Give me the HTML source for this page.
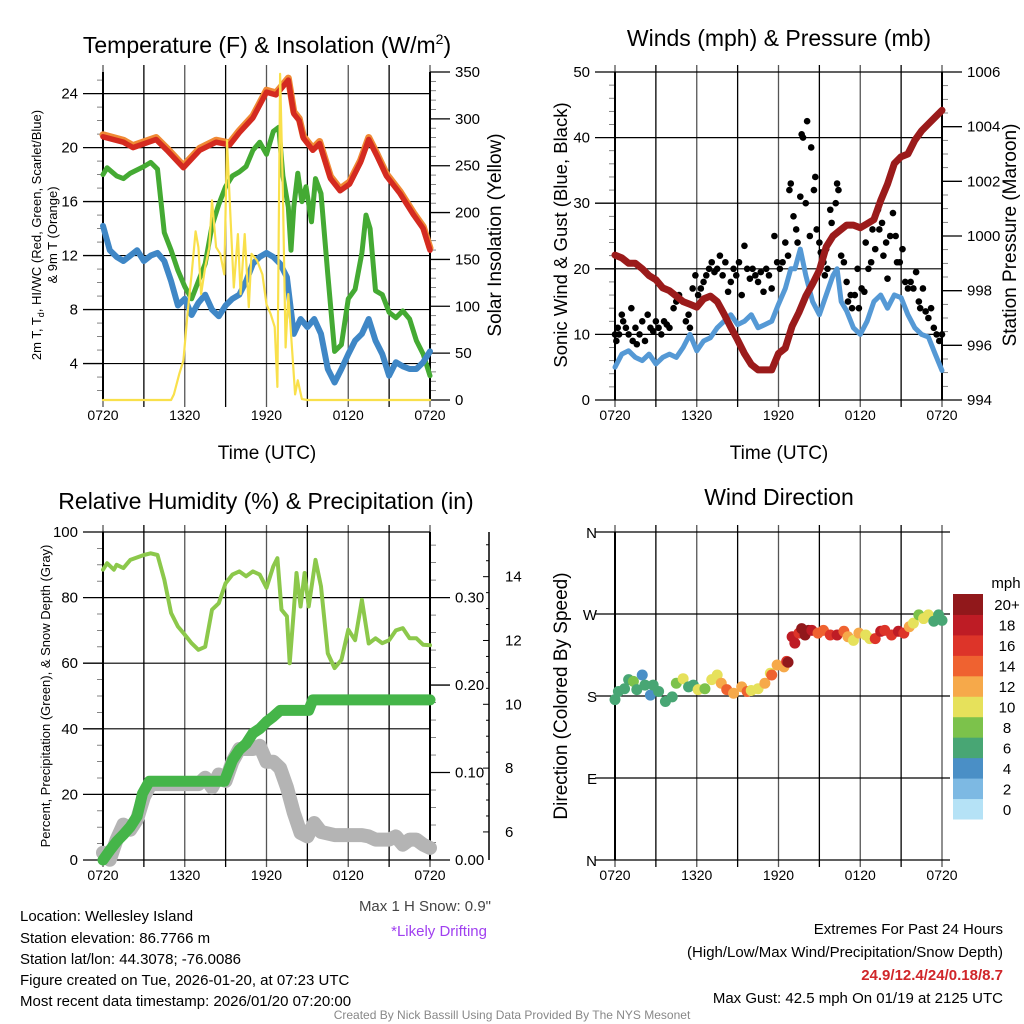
<!DOCTYPE html>
<html><head><meta charset="utf-8">
<style>
html,body{margin:0;padding:0;background:#fff;}
svg{display:block;font-family:"Liberation Sans",Arial,sans-serif;}
</style></head>
<body>
<svg id="chart" width="1024" height="1024" viewBox="0 0 1024 1024">
<rect width="1024" height="1024" fill="#fff"/>
<g id="g"></g>
<!-- titles -->
<text x="267" y="53" font-size="23" text-anchor="middle">Temperature (F) &amp; Insolation (W/m<tspan font-size="14" dy="-9">2</tspan><tspan dy="9">)</tspan></text>
<text x="779" y="46" font-size="23" text-anchor="middle">Winds (mph) &amp; Pressure (mb)</text>
<text x="266" y="509" font-size="23" text-anchor="middle">Relative Humidity (%) &amp; Precipitation (in)</text>
<text x="779" y="505" font-size="23" text-anchor="middle">Wind Direction</text>
<text x="267" y="459" font-size="19" text-anchor="middle">Time (UTC)</text>
<text x="779" y="459" font-size="19" text-anchor="middle">Time (UTC)</text>
<text transform="translate(41,235) rotate(-90)" font-size="13" text-anchor="middle">2m T, T<tspan font-size="9" dy="3">d</tspan><tspan dy="-3">, HI/WC (Red, Green, Scarlet/Blue)</tspan></text>
<text transform="translate(57,235) rotate(-90)" font-size="13" text-anchor="middle">&amp; 9m T (Orange)</text>
<text transform="translate(501,235) rotate(-90)" font-size="19" text-anchor="middle">Solar Insolation (Yellow)</text>
<text transform="translate(567,235) rotate(-90)" font-size="18.5" text-anchor="middle">Sonic Wind &amp; Gust (Blue, Black)</text>
<text transform="translate(1016,235) rotate(-90)" font-size="19" text-anchor="middle">Station Pressure (Maroon)</text>
<text transform="translate(50,696) rotate(-90)" font-size="13" text-anchor="middle">Percent, Precipitation (Green), &amp; Snow Depth (Gray)</text>
<text transform="translate(567,696) rotate(-90)" font-size="19" text-anchor="middle">Direction (Colored By Speed)</text>
<!-- bottom text -->
<g font-size="15">
<text x="20" y="921">Location: Wellesley Island</text>
<text x="20" y="943">Station elevation: 86.7766 m</text>
<text x="20" y="964">Station lat/lon: 44.3078; -76.0086</text>
<text x="20" y="985">Figure created on Tue, 2026-01-20, at 07:23 UTC</text>
<text x="20" y="1006">Most recent data timestamp: 2026/01/20 07:20:00</text>
</g>
<text x="491" y="911" font-size="15" fill="#444" text-anchor="end">Max 1 H Snow: 0.9"</text>
<text x="487" y="936" font-size="15" fill="#a040f0" text-anchor="end">*Likely Drifting</text>
<g font-size="15" text-anchor="end">
<text x="1003" y="934">Extremes For Past 24 Hours</text>
<text x="1003" y="957">(High/Low/Max Wind/Precipitation/Snow Depth)</text>
<text x="1003" y="980" fill="#d0262a" font-weight="bold">24.9/12.4/24/0.18/8.7</text>
<text x="1003" y="1003">Max Gust: 42.5 mph On 01/19 at 2125 UTC</text>
</g>
<text x="512" y="1019" font-size="12" fill="#888" text-anchor="middle">Created By Nick Bassill Using Data Provided By The NYS Mesonet</text>
</svg>
<script>
// ---------- data ----------
const xTickLabels = ["0720","1320","1920","0120","0720"];
const tRedH = [0,1.5,2.2,3.9,4.7,5.9,7.1,8.3,9.3,10,11,12,12.7,13.6,14,14.4,14.7,15.4,15.9,16.7,17.4,18.1,18.9,19.5,20.1,20.8,21.8,22.8,23.5,24];
const tRedV = [20.8,20.4,20.0,20.6,19.8,18.5,19.8,20.4,20.2,21.1,22.2,24.1,23.9,25.0,22.5,22.0,20.7,19.8,20.3,17.7,16.8,17.3,18.9,20.6,19.4,17.9,16.6,15.0,14.0,12.4];
const tGreenH = [0,0.3,1,1.5,2,3,3.5,4,4.5,5,5.5,6,6.5,7,7.5,8,8.5,9,9.5,10,10.5,11,11.5,12,12.5,12.9,13.2,13.6,13.8,14,14.3,14.6,14.9,15.3,15.6,16,16.5,17,17.5,18,18.5,19,19.3,19.6,20,20.5,21,21.5,22,22.5,23,23.5,24];
const tGreenV = [18.0,18.5,17.9,17.7,18.1,18.6,18.9,18.4,13.7,12.4,10.9,9.7,8.8,10.1,11.4,14.2,15.8,17.1,17.9,18.2,18.6,19.8,20.4,19.5,21.2,21.5,17.9,15.6,12.4,15.6,18.1,16.0,17.1,14.5,17.7,16.6,10.6,4.9,5.4,8.8,9.5,12.2,15.0,14.0,9.4,9.1,7.8,7.4,7.9,7.3,5.7,4.7,3.1];
const tBlueH = [0,0.5,1,1.5,2,2.5,3,3.5,4,4.5,5,5.5,6,6.5,7,7.5,8,8.5,9,9.5,10,10.5,11,11.5,12,12.5,13,13.5,14,14.5,15,15.5,16,16.5,17,17.5,18,18.5,19,19.5,20,20.5,21,21.5,22,22.5,23,23.5,24];
const tBlueV = [14.2,12.4,11.9,11.6,12.0,12.4,11.6,12.0,12.2,11.6,10.1,8.3,8.8,7.6,8.5,9.1,8.0,7.5,8.3,8.8,9.1,10.1,11.4,11.9,12.2,11.9,11.4,10.4,6.2,7.3,6.7,7.3,6.2,3.6,2.6,3.6,4.7,5.7,6.2,7.3,5.7,4.7,3.1,4.1,3.8,3.6,3.6,4.1,4.9];
const solH = [0,5,5.2,5.6,5.9,6.2,6.5,6.8,7,7.2,7.5,7.8,8,8.3,8.6,8.9,9.1,9.3,9.6,9.9,10.1,10.4,10.7,10.9,11.3,11.7,12,12.3,12.6,12.8,13.0,13.2,13.4,13.6,13.9,14.1,14.3,14.6,15,24];
const solV = [0,0,6,28,42,92,134,180,163,113,142,163,213,163,156,134,277,213,120,177,113,177,99,156,149,134,102,92,78,14,348,220,56,113,49,6,21,1,0,0];
const windH = [0,0.5,1,1.5,2,2.5,3,3.5,4,4.5,5,5.5,6,6.5,7,7.5,8,8.5,9,9.5,10,10.5,11,11.5,12,12.5,12.9,13.2,13.6,14,14.5,15,15.5,16,16.3,16.6,17,17.5,18,18.5,19,19.5,20,20.5,21,21.5,22,22.5,23,23.5,24];
const windV = [5,7,7.5,6.5,6,7,5.5,6.5,7,6.5,8,10,7.5,9,9.5,11,12,13,11.5,12,13,11,11.5,12,14.6,17,20,20,23,19,15,13,16,19,20,15,13.6,11,10,12,15,16,14,16,15.6,13,11,10,9.6,7,4.5];
const gustH = [0,0.1,0.2,0.3,0.5,0.6,0.8,1,1.2,1.3,1.5,1.6,1.8,2,2.2,2.4,2.6,2.8,3,3.2,3.4,3.6,3.8,4,4.3,4.5,4.7,5,5.2,5.4,5.5,5.7,5.9,6.1,6.3,6.5,6.7,6.9,7.1,7.3,7.5,7.7,7.9,8.1,8.3,8.5,8.7,8.9,9.1,9.3,9.5,9.7,9.9,10.1,10.3,10.5,10.7,10.9,11.1,11.3,11.5,11.7,11.9,12.1,12.3,12.5,12.7,12.8,12.9,13.1,13.3,13.4,13.6,13.7,13.8,14,14.1,14.3,14.4,14.6,14.7,14.8,15,15.1,15.3,15.4,15.5,15.6,15.8,15.9,16,16.2,16.3,16.4,16.6,16.8,17,17.1,17.3,17.4,17.6,17.8,17.9,18.1,18.3,18.4,18.6,18.8,18.9,19.1,19.3,19.4,19.6,19.7,19.9,20,20.2,20.4,20.6,20.7,20.9,21.1,21.3,21.5,21.7,21.9,22.1,22.3,22.4,22.6,22.8,23,23.2,23.4,23.6,23.8,24];
const gustV = [10,9,11,10,13,12,11,10,14,9,11,8.5,10,12,9,13,11,10.5,12,11,10,12,11.5,11,14,15,16,15,12,13,11,17,19,16,17,18,19,20,21,19.5,20,22,19,21,16.5,18,20,19,21,16,23.5,20,18.5,20,19,18,19.5,16.5,20,19,17,25,21,20,21,24,22,32,33,28,26,24,31,40.5,40,30,42.5,25,38.5,32,34,26,24,22.5,21,19,23,20,29,27,25,30,33,32,22,21,18,15,16,14,16,20,14,17,16.5,24,20,21,26,23,29,26,27,22,24,18.5,25,28.5,25,21,21,23,18,17,18,17,19.5,15,14,17,13.5,12.5,14,11,10,9,10];
const presH = [0,0.5,1,1.5,2,2.5,3,3.5,4,4.5,5,5.5,6,6.5,7,7.5,8,8.5,9,9.5,10,10.5,11,11.5,12,12.5,13,13.5,14,14.5,15,15.5,16,16.5,17,17.5,18,18.5,19,19.5,20,20.5,21,21.5,22,22.5,23,23.5,24];
const presV = [999.3,999.2,999.0,999.0,998.8,998.55,998.4,998.1,998.0,997.8,997.6,997.5,997.4,997.7,997.8,997.6,997.15,996.66,996.2,995.7,995.3,995.1,995.1,995.1,995.7,995.9,996.7,997.2,997.8,998.25,998.75,999.6,1000.0,1000.2,1000.4,1000.4,1000.3,1000.45,1000.6,1001.3,1001.9,1002.65,1002.9,1003.0,1003.5,1003.85,1004.1,1004.35,1004.6];
const rhH = [0,0.3,0.8,1,1.5,2,3,3.5,4,4.5,5,5.5,6,6.5,7,7.5,8,8.5,9,9.5,10,10.5,11,11.5,12,12.5,12.8,13.1,13.5,13.7,14,14.2,14.5,14.8,15.1,15.6,16,16.5,17,17.5,18,18.5,19,19.5,20,20.5,21,21.5,22,22.5,23,23.5,24];
const rhV = [88.5,90.5,88.5,90,89,91.5,93,93.5,93,85.5,75.3,71.2,68.7,66.1,64.1,65,76.3,78.3,84.4,87,88,86.5,88,87,83,89.5,92,76.3,74.3,60,76,87.5,77.3,87.5,77.3,91.5,83.4,63,58.5,61,70.2,67,79.3,66,67.6,66.1,67,70,70.7,67.6,67.6,65.6,65.5];
const prcH = [0,0.5,1,1.5,2,2.5,2.9,3.4,8.9,9.5,10,10.5,11,11.5,12,12.5,13,15.1,15.4,24];
const prcV = [0,0.011,0.021,0.029,0.038,0.05,0.076,0.09,0.09,0.114,0.126,0.133,0.145,0.15,0.158,0.164,0.171,0.171,0.183,0.183];
const snowH = [0,0.5,1,1.5,2,2.5,3,3.5,7,7.5,8,8.5,9,9.5,10,10.5,11,11.5,12,12.5,13,13.5,14,14.5,15,15.5,16,17,18,19,19.5,20,21,21.5,22,22.5,23,23.5,24];
const snowV = [5.35,5.13,5.76,6.23,6.07,6.4,7.1,7.5,7.5,7.7,7.4,7.8,7.6,8.2,8.6,8.6,8.6,8.7,8.2,8.2,8.0,7.4,6.6,5.97,5.86,6.28,6.0,5.9,5.9,5.9,5.86,5.76,5.76,5.86,5.6,5.76,5.76,5.6,5.5];
const dirH = [0,0.25,0.7,1.0,1.35,1.6,2.0,2.2,2.6,2.8,3.2,3.7,4.2,4.5,5.0,5.4,5.75,6.1,6.6,7.1,7.5,7.8,8.2,8.7,9.3,9.7,10.0,10.5,11.0,11.4,11.5,11.9,12.4,12.6,12.7,13.0,13.2,13.5,13.7,13.95,14.2,14.45,14.9,15.3,15.8,16.3,16.8,17.1,17.5,17.9,18.4,18.7,19.1,19.5,19.8,20.3,20.8,21.2,21.6,21.9,22.3,22.65,23.0,23.4,23.75,24.0];
const dirV = [176,185,188,198,196,187,203,192,181,192,185,174,179,194,199,190,192,187,188,198,203,194,187,183,190,185,186,188,194,205,203,214,212,218,217,245,238,249,254,247,252,252,249,252,247,247,251,245,241,249,247,243,243,251,252,247,251,249,256,260,269,265,269,262,269,263];
const dirSpd = [6,6,7,6,8,7,4,6,4,6,7,6,6,8,10,7,6,10,8,10,10,12,14,13,12,14,10,10,12,10,15,13,12,16,20,18,18,16,20,20,20,18,14,14,16,18,14,12,10,12,10,10,16,18,16,16,18,17,12,10,8,10,10,6,6,6];
const legendLabels = ["0","2","4","6","8","10","12","14","16","18","20+"];
const legendColors = ["#b5e2f6","#7db9e3","#4a8fc6","#48a674","#7cc24b","#e6e15b","#f6a94a","#ef6230","#dd3429","#be1c25","#91181b"];

// ---------- helpers ----------
const NS="http://www.w3.org/2000/svg";
const G=document.getElementById("g");
function mk(tag,attrs,parent){const e=document.createElementNS(NS,tag);for(const k in attrs)e.setAttribute(k,attrs[k]);(parent||G).appendChild(e);return e;}
function lin(d0,d1,r0,r1){return v=>r0+(v-d0)*(r1-r0)/(d1-d0);}
function pathOf(H,V,sx,sy){return H.map((h,i)=>(i?"L":"M")+sx(h).toFixed(1)+","+sy(V[i]).toFixed(1)).join("");}

function panel(px,py,name){
  const x0=px,x1=px+327,y0=py,y1=py+328;
  const sx=lin(0,24,x0,x1);
  const g=mk("g",{});
  
  
  for(let h=0;h<=24;h+=3){
    const l=mk("line",{x1:sx(h),x2:sx(h),y1:y0-7,y2:y1+7,stroke:(h%6===0?"#555":"#000"),"stroke-width":1.3},g);
    
    
  }
  for(let i=0;i<5;i++){
    const t=mk("text",{x:sx(i*6),y:y1+20,"font-size":14,"text-anchor":"middle"},g);
    t.textContent=xTickLabels[i];
    
    
  }
  return {sx,x0,x1,y0,y1,g};
}
function yAxis(P,d0,d1,major,minor,side,fmt,gridOn){
  const sy=lin(d0,d1,P.y1,P.y0);
  const xa= side==="L"?P.x0:P.x1;
  const dir= side==="L"?-1:1;
  const start=Math.ceil(d0/minor-1e-9)*minor;
  for(let v=start;v<=d1+1e-9;v+=minor){
    const isMaj=Math.abs(v/major-Math.round(v/major))<1e-6;
    mk("line",{x1:xa,x2:xa+dir*(isMaj?20:6),y1:sy(v),y2:sy(v),stroke:"#000","stroke-width":isMaj?1.3:0.8,opacity:isMaj?1:0.6},P.g);
    if(isMaj){
      if(gridOn) mk("line",{x1:P.x0,x2:P.x1,y1:sy(v),y2:sy(v),stroke:"#000","stroke-width":1.2},P.g);
      const t=mk("text",{x:xa+dir*25,y:sy(v)+5,"font-size":15,"text-anchor":side==="L"?"end":"start"},P.g);
      t.textContent=fmt(v);
      
      
    }
  }
  return sy;
}
function drawLine(H,V,sx,sy,color,w,name){
  const p=mk("path",{d:pathOf(H,V,sx,sy),fill:"none",stroke:color,"stroke-width":w,"stroke-linejoin":"round","stroke-linecap":"round"});
  
  
  return p;
}

// ---------- Panel 1: temperature ----------
const P1=panel(103,72,"temperature-panel");
const sT=yAxis(P1,1.3,25.6,4,1,"L",v=>String(Math.round(v)),true);
const sS=yAxis(P1,0,350,50,10,"R",v=>String(Math.round(v)),false);
mk("line",{x1:P1.x0,x2:P1.x0,y1:P1.y0,y2:P1.y1,stroke:"#000","stroke-width":2});
mk("line",{x1:P1.x1,x2:P1.x1,y1:P1.y0,y2:P1.y1,stroke:"#000","stroke-width":2});
drawLine(tRedH,tRedV.map(v=>v+0.15),P1.sx,sT,"#f08a35",7,"nine-m-temp-line");
drawLine(tRedH,tRedV,P1.sx,sT,"#d42a20",5.5,"temp-line");
drawLine(tGreenH,tGreenV,P1.sx,sT,"#44aa33",5,"heat-index-line");
drawLine(tBlueH,tBlueV,P1.sx,sT,"#3f87c6",6,"dewpoint-line");
drawLine(solH,solV,P1.sx,sS,"#f9e04b",2.2,"insolation-line");

// ---------- Panel 2: wind ----------
const P2=panel(615,72,"wind-panel");
const sW=yAxis(P2,0,50,10,2,"L",v=>String(Math.round(v)),true);
const sP=yAxis(P2,994,1006,2,0.5,"R",v=>String(Math.round(v)),false);
mk("line",{x1:P2.x0,x2:P2.x0,y1:P2.y0,y2:P2.y1,stroke:"#000","stroke-width":2});
mk("line",{x1:P2.x1,x2:P2.x1,y1:P2.y0,y2:P2.y1,stroke:"#000","stroke-width":2});
drawLine(windH,windV,P2.sx,sW,"#5599d5",5,"wind-speed-line");
gustH.forEach((h,i)=>{
  const c=mk("circle",{cx:P2.sx(h),cy:sW(gustV[i]),r:3.3,fill:"#000"});
  
  
});
drawLine(presH,presV,P2.sx,sP,"#9b1b1b",7,"pressure-line");

// ---------- Panel 3: RH / precip ----------
const P3=panel(103,532,"humidity-panel");
const sR=yAxis(P3,0,100,20,5,"L",v=>String(Math.round(v)),true);
const sPr=yAxis(P3,0,0.375,0.1,0.02,"R",v=>v.toFixed(2),false);
mk("line",{x1:P3.x0,x2:P3.x0,y1:P3.y0,y2:P3.y1,stroke:"#000","stroke-width":2});
mk("line",{x1:P3.x1,x2:P3.x1,y1:P3.y0,y2:P3.y1,stroke:"#000","stroke-width":2});
const sSn=lin(5.12,15.4,P3.y1,P3.y0);
mk("line",{x1:489,x2:489,y1:P3.y0,y2:P3.y1,stroke:"#000","stroke-width":1.5});
for(let v=6;v<=15;v+=0.5){
  const maj=(v%2===0);
  mk("line",{x1:489,x2:maj?483:486,y1:sSn(v),y2:sSn(v),stroke:"#000","stroke-width":1});
  if(maj){const t=mk("text",{x:505,y:sSn(v)+5,"font-size":15});t.textContent=String(v);
    
    }
}
drawLine(snowH,snowV,P3.sx,sSn,"#b4b4b4",14,"snow-depth-line");
drawLine(prcH,prcV,P3.sx,sPr,"#45b549",11,"precip-line");
drawLine(rhH,rhV,P3.sx,sR,"#8cc84b",4,"rh-line");

// ---------- Panel 4: direction ----------
const P4=panel(615,532,"direction-panel");
const sD=lin(0,360,P4.y1,P4.y0);
["N","E","S","W","N"].forEach((lab,i)=>{
  const y=sD(i*90);
  mk("line",{x1:P4.x0-20,x2:P4.x1+8,y1:y,y2:y,stroke:"#000","stroke-width":1.2});
  const t=mk("text",{x:P4.x0-18,y:y+6,"font-size":15,"text-anchor":"end"});t.textContent=lab;
  
  
});
mk("line",{x1:P4.x0,x2:P4.x0,y1:P4.y0,y2:P4.y1,stroke:"#000","stroke-width":2});
function spdColor(s){let k=Math.floor(s/2);if(k>10)k=10;if(k<0)k=0;return legendColors[k];}
dirH.forEach((h,i)=>{
  const c=mk("circle",{cx:P4.sx(h),cy:sD(dirV[i]),r:5.5,fill:spdColor(dirSpd[i])});
  
  
});
const lg=mk("g",{});


const mt=mk("text",{x:1006,y:588,"font-size":15,"text-anchor":"middle"},lg);mt.textContent="mph";
legendLabels.forEach((lab,i)=>{
  const bh=(819-594)/11;
  const y=819-(i+1)*bh;
  const r=mk("rect",{x:953,y:y,width:30,height:bh+0.5,fill:legendColors[i]},lg);
  
  
  const t=mk("text",{x:1007,y:y+bh/2+6,"font-size":15,"text-anchor":"middle"},lg);t.textContent=lab;
  
  
});
</script>
</body></html>
